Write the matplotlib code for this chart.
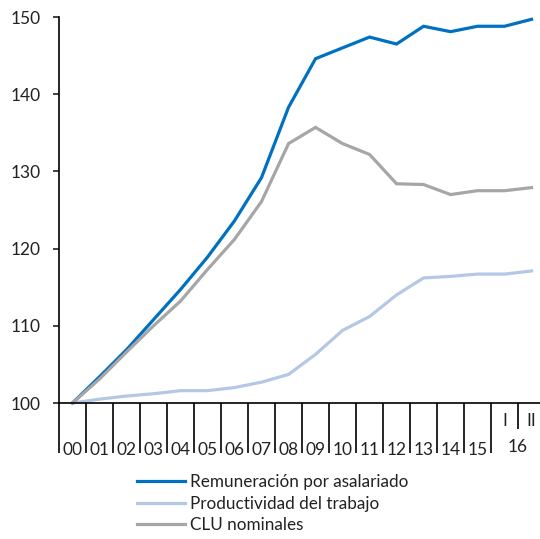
import matplotlib
matplotlib.use("Agg")
import matplotlib.pyplot as plt
import numpy as np

plt.rcParams['font.family'] = ['Lato', 'DejaVu Sans']

# categorías (años 2000-2015, 2016 por semestres)
years = ["00", "01", "02", "03", "04", "05", "06", "07", "08", "09",
         "10", "11", "12", "13", "14", "15"]
halves = ["I", "II"]

remuneracion = [100.0, 103.4, 106.9, 110.8, 114.7, 118.9, 123.6, 129.2, 138.3,
                144.6, 146.0, 147.4, 146.5, 148.8, 148.1, 148.8, 148.8, 149.7]
productividad = [100.0, 100.5, 100.9, 101.2, 101.6, 101.6, 102.0, 102.7, 103.7,
                 106.3, 109.4, 111.2, 114.0, 116.2, 116.4, 116.7, 116.7, 117.1]
clu = [100.0, 103.1, 106.6, 110.0, 113.2, 117.3, 121.2, 126.1, 133.6,
       135.7, 133.6, 132.2, 128.4, 128.3, 127.0, 127.5, 127.5, 127.9]

series = [
    ("Remuneración por asalariado", remuneracion, "#0070C0"),
    ("Productividad del trabajo", productividad, "#B4C8E6"),
    ("CLU nominales", clu, "#A6A6A6"),
]

W, H = 540, 539
fig = plt.figure(figsize=(W / 100, H / 100), dpi=100)
# ejes en píxeles: x 59..541, y 17..403
ax = fig.add_axes([59 / W, 1 - 403 / H, 482 / W, 386 / H])

x = np.arange(len(remuneracion))
for name, vals, col in series:
    ax.plot(x, vals, color=col, lw=2.3, label=name, clip_on=False,
            solid_joinstyle="miter")

ax.set_ylim(100, 150)
ax.set_xlim(-0.5, 17.35)
ax.set_yticks(np.arange(100, 151, 10))
ax.tick_params(axis="y", direction="out", length=4.5, width=1.2, labelsize=12.5,
               pad=9, colors="#222222")

# separadores de años (ticks largos) y de semestres (tick corto)
bounds = np.arange(-0.5, len(years) + 0.5, 1.0)
ax.set_xticks(bounds)
ax.set_xticklabels([])
ax.tick_params(axis="x", which="major", direction="out", length=36, width=1.2)
ax.set_xticks([len(years) + 0.5], minor=True)
ax.tick_params(axis="x", which="minor", direction="out", length=19, width=1.2)

for s in ["top", "right"]:
    ax.spines[s].set_visible(False)
for s in ["left", "bottom"]:
    ax.spines[s].set_linewidth(1.2)

tr = ax.get_xaxis_transform()
for i, lab in enumerate(years):
    ax.text(i, -0.123, lab, transform=tr, ha="center", va="center",
            fontsize=12.5, color="#222222")
for j, lab in enumerate(halves):
    ax.text(len(years) + j, -0.047, lab, transform=tr, ha="center", va="center",
            fontsize=12.5, color="#222222")
ax.text(len(years) + 0.5, -0.115, "16", transform=tr, ha="center", va="center",
        fontsize=12.5, color="#222222")

leg = fig.legend(loc="upper left", bbox_to_anchor=(137 / W, 1 - 474 / H),
                 frameon=False, fontsize=12.3, handlelength=2.8,
                 handletextpad=0.3, labelspacing=0.33, borderpad=0,
                 borderaxespad=0)
for t in leg.get_texts():
    t.set_color("#222222")

fig.savefig("out.png", dpi=100)
